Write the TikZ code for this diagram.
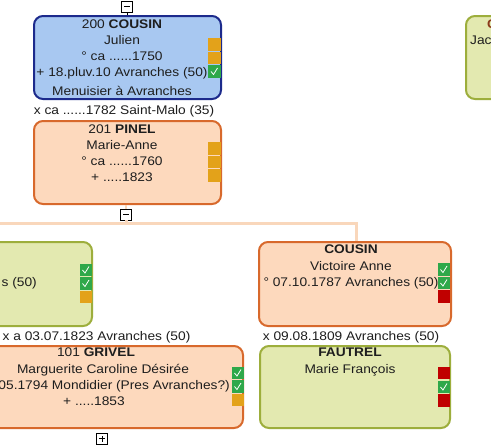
\documentclass[tikz,border=0pt]{standalone}
\usepackage{fontspec}
\setmainfont{Liberation Sans}[FakeStretch=1.1]
\definecolor{blueF}{HTML}{A8C8F1}
\definecolor{blueB}{HTML}{1C2A8C}
\definecolor{peachF}{HTML}{FDD9BD}
\definecolor{peachB}{HTML}{D8692C}
\definecolor{greenF}{HTML}{E3E9B0}
\definecolor{greenB}{HTML}{9DAE3C}
\definecolor{connc}{HTML}{F9D7BB}
\definecolor{indO}{HTML}{E3A21A}
\definecolor{indG}{HTML}{2FA84A}
\definecolor{indR}{HTML}{C00000}
\definecolor{txtc}{HTML}{1E1E1E}
\definecolor{brownc}{HTML}{8B3A1A}
\begin{document}
\begin{tikzpicture}[x=1pt,y=-1pt,
  box/.style={draw, line width=2pt, rounded corners=9pt, inner sep=0pt},
  bluebox/.style={box, fill=blueF, draw=blueB},
  peachbox/.style={box, fill=peachF, draw=peachB},
  greenbox/.style={box, fill=greenF, draw=greenB},
  txt/.style={inner sep=0pt, anchor=base, font=\fontsize{12.5}{14}\selectfont, text=txtc},
  ind/.style={minimum size=12.5pt, inner sep=0pt, draw=none},
  io/.style={ind, fill=indO},
  ir/.style={ind, fill=indR},
  ig/.style={ind, fill=indG, path picture={
    \draw[white, line width=0.8pt] ([shift={(-3.5pt,0pt)}]path picture bounding box.center) -- ++(2.5pt,-3pt) -- ++(4pt,6.5pt);}},
  tog/.style={draw=black, fill=white, minimum size=11pt, inner sep=0pt, line width=0.8pt},
  minus/.style={tog, path picture={
    \draw[black, line width=1pt] ([xshift=-3pt]path picture bounding box.center) -- ([xshift=3pt]path picture bounding box.center);}},
  plus/.style={tog, path picture={
    \draw[black, line width=1pt] ([xshift=-3pt]path picture bounding box.center) -- ([xshift=3pt]path picture bounding box.center);
    \draw[black, line width=1pt] ([yshift=-3pt]path picture bounding box.center) -- ([yshift=3pt]path picture bounding box.center);}},
  conn/.style={draw=connc, line width=3pt},
  connthin/.style={draw=connc, line width=1.5pt}
]
\useasboundingbox (0,0) rectangle (491,447);
\clip (0,0) rectangle (491,447);
\fill[white] (0,0) rectangle (491,447);

% connectors
\coordinate (jL) at (-2,223);
\coordinate (jR) at (356,223);

% boxes
\node[bluebox, minimum width=187pt, minimum height=83pt] (b200) at (127.5,57.5) {};
\node[peachbox, minimum width=187pt, minimum height=83pt] (b201) at (127.5,162.5) {};
\node[greenbox, minimum width=187pt, minimum height=84pt] (lg) at (-1.5,284) {};
\node[peachbox, minimum width=192pt, minimum height=84pt] (vic) at (355,284) {};
\node[peachbox, minimum width=286pt, minimum height=82pt] (griv) at (100,387) {};
\node[greenbox, minimum width=190pt, minimum height=82pt] (faut) at (355,387) {};
\node[greenbox, minimum width=187pt, minimum height=83pt] (rt) at (559.5,57.5) {};

% toggles
\node[minus] (m200) at (127,6.5) {};
\node[minus] (m201) at (126,214.5) {};
\node[plus] (p101) at (102,438.5) {};

\draw[black, line width=0.8pt] (m200.south) -- (m200.south |- b200.north);
\draw[connthin] (b201.south -| m201.north) -- (m201.north);
\draw[conn] (m201.south) -- (m201.south |- jL);
\draw[conn] (jL) -- (jR) -- (jR |- vic.north);

% box 200
\node[txt] (t200a) at (122,28.5) {200 \textbf{COUSIN}};
\node[txt] (t200b) at (122,44.5) {Julien};
\node[txt] (t200c) at (122,60.5) {° ca ......1750};
\node[txt] (t200d) at (122,76.5) {+ 18.pluv.10 Avranches (50)};
\node[txt] (t200e) at (122,95.5) {Menuisier à Avranches};
\node[io] (i200a) at (214.5,44.5) {};
\node[io] (i200b) at (214.5,58) {};
\node[ig] (i200c) at (214.5,71.5) {};

\node[txt] (x200) at (124,114.5) {x ca ......1782 Saint-Malo (35)};

% box 201
\node[txt] (t201a) at (122,133.5) {201 \textbf{PINEL}};
\node[txt] (t201b) at (122,149.5) {Marie-Anne};
\node[txt] (t201c) at (122,165.5) {° ca ......1760};
\node[txt] (t201d) at (122,181.5) {+ .....1823};
\node[io] (i201a) at (214.5,148.5) {};
\node[io] (i201b) at (214.5,162) {};
\node[io] (i201c) at (214.5,175.5) {};

% left green box
\node[txt, anchor=base east] (tlg) at (37,286.5) {s (50)};
\node[ig] (ilga) at (86,270) {};
\node[ig] (ilgb) at (86,283.5) {};
\node[io] (ilgc) at (86,297) {};

% Victoire
\node[txt] (tva) at (351,253.5) {\textbf{COUSIN}};
\node[txt] (tvb) at (351,270.5) {Victoire Anne};
\node[txt] (tvc) at (351,286.5) {° 07.10.1787 Avranches (50)};
\node[ig] (iva) at (444,269.5) {};
\node[ig] (ivb) at (444,283) {};
\node[ir] (ivc) at (444,296.5) {};

% marriages
\node[txt] (xg) at (96.5,340.5) {x a 03.07.1823 Avranches (50)};
\node[txt] (xf) at (351,340.5) {x 09.08.1809 Avranches (50)};

% Grivel
\node[txt] (tga) at (96,356.5) {101 \textbf{GRIVEL}};
\node[txt] (tgb) at (103,373.5) {Marguerite Caroline Désirée};
\node[txt, anchor=base east] (tgc) at (230,389.5) {05.1794 Mondidier (Pres Avranches?)};
\node[txt] (tgd) at (94,405.5) {+ .....1853};
\node[ig] (iga) at (238,373) {};
\node[ig] (igb) at (238,386.5) {};
\node[io] (igc) at (238,400) {};

% Fautrel
\node[txt] (tfa) at (350,356.5) {\textbf{FAUTREL}};
\node[txt] (tfb) at (350,373.5) {Marie François};
\node[ir] (ifa) at (444,373) {};
\node[ig] (ifb) at (444,387) {};
\node[ir] (ifc) at (444,400.5) {};

% right box
\node[txt, anchor=base west, text=brownc] (trta) at (487,28.5) {\textbf{C}};
\node[txt, anchor=base west] (trtb) at (470,44.5) {Jac};
\end{tikzpicture}
\end{document}
